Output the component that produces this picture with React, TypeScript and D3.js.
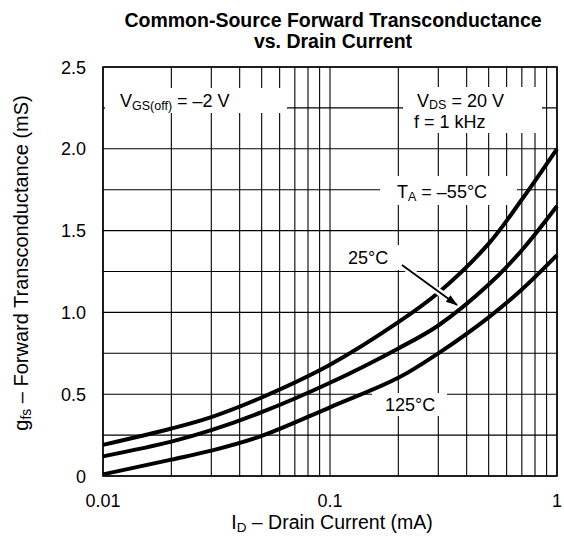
import React from "react";
import * as d3 from "d3";

const xTicks = [0.01, 0.1, 1];
const xTickLabels = ["0.01", "0.1", "1"];
const yTicks = [0, 0.5, 1.0, 1.5, 2.0, 2.5];
const yTickLabels = ["0", "0.5", "1.0", "1.5", "2.0", "2.5"];
const yGrid = [0, 0.25, 0.5, 0.75, 1.0, 1.25, 1.5, 1.75, 2.0, 2.25, 2.5];
const xGrid = [0.01, 0.02, 0.03, 0.04, 0.05, 0.06, 0.07, 0.08, 0.09, 0.1, 0.2, 0.3, 0.4, 0.5, 0.6, 0.7, 0.8, 0.9, 1];

const idCurrent = [0.01, 0.02, 0.03, 0.05, 0.1, 0.2, 0.3, 0.5, 0.7, 1.0];
const gfsM55 = [0.19, 0.29, 0.36, 0.48, 0.68, 0.94, 1.12, 1.42, 1.69, 2.0];
const gfs25 = [0.12, 0.21, 0.28, 0.39, 0.57, 0.78, 0.92, 1.17, 1.38, 1.65];
const gfs125 = [0.01, 0.1, 0.155, 0.245, 0.42, 0.6, 0.75, 0.97, 1.14, 1.35];

const series = [gfsM55, gfs25, gfs125];

const W = 564;
const H = 540;
const left = 103, right = 557, top = 67, bottom = 476;
const font = "Liberation Sans, Arial, Helvetica, sans-serif";
const fs = 18;
const sub = 12.5;

export default function App() {
  const x = d3.scaleLog().domain([0.01, 1]).range([left, right]);
  const y = d3.scaleLinear().domain([0, 2.5]).range([bottom, top]);
  const line = d3
    .line<[number, number]>()
    .x((d) => x(d[0]))
    .y((d) => y(d[1]))
    .curve(d3.curveCatmullRom.alpha(0.5));

  const boxes = [
    { x: 105, y: 88, w: 182, h: 25 },
    { x: 403, y: 87, w: 139, h: 46 },
    { x: 380, y: 176, w: 137, h: 29 },
    { x: 340, y: 245, w: 60, h: 25 },
    { x: 372, y: 393, w: 75, h: 23 },
  ];

  return (
    <svg width={W} height={H} style={{ position: "absolute", left: 0, top: 0 }} fontFamily={font}>
      <defs>
        <marker id="ah" viewBox="0 0 12 10" refX="11" refY="5" markerWidth="13" markerHeight="10" orient="auto" markerUnits="userSpaceOnUse">
          <path d="M0,1 L12,5 L0,9 z" fill="#000" />
        </marker>
      </defs>
      <rect x={0} y={0} width={W} height={H} fill="#fff" />
      {yGrid.map((v) => (
        <line key={"h" + v} x1={left} x2={right} y1={y(v)} y2={y(v)} stroke="#000" strokeWidth={1.1} />
      ))}
      {xGrid.map((v) => (
        <line key={"v" + v} x1={x(v)} x2={x(v)} y1={top} y2={bottom} stroke="#000" strokeWidth={1.1} />
      ))}
      <rect x={left} y={top} width={right - left} height={bottom - top} fill="none" stroke="#000" strokeWidth={1.5} />
      {boxes.map((b, i) => (
        <rect key={"b" + i} x={b.x} y={b.y} width={b.w} height={b.h} fill="#fff" />
      ))}
      {series.map((s, i) => (
        <path
          key={"s" + i}
          d={line(idCurrent.map((c, j) => [c, s[j]] as [number, number])) || ""}
          fill="none"
          stroke="#000"
          strokeWidth={4}
        />
      ))}
      <line x1={402} y1={265} x2={457} y2={305} stroke="#fff" strokeWidth={7} />
      <line x1={402} y1={265} x2={457} y2={305} stroke="#000" strokeWidth={1.8} markerEnd="url(#ah)" />

      <text x={120} y={107} fontSize={fs}>
        V<tspan fontSize={sub} dy={2.5}>GS(off)</tspan>
        <tspan dy={-2.5}> = –2 V</tspan>
      </text>
      <text x={417} y={107} fontSize={fs}>
        V<tspan fontSize={sub} dy={2}>DS</tspan>
        <tspan dy={-2}> = 20 V</tspan>
      </text>
      <text x={414} y={128} fontSize={fs}>f = 1 kHz</text>
      <text x={397} y={198} fontSize={fs}>
        T<tspan fontSize={sub} dy={2.5}>A</tspan>
        <tspan dy={-2.5}> = –55°C</tspan>
      </text>
      <text x={348} y={264} fontSize={fs}>25°C</text>
      <text x={385} y={411} fontSize={fs}>125°C</text>

      {yTicks.map((v, i) => (
        <text key={"yt" + v} x={86} y={y(v) + 6.5} fontSize={fs} textAnchor="end">
          {yTickLabels[i]}
        </text>
      ))}
      {xTicks.map((v, i) => (
        <text key={"xt" + v} x={x(v)} y={507} fontSize={fs} textAnchor="middle">
          {xTickLabels[i]}
        </text>
      ))}
      <text x={332} y={529} fontSize={19.5} textAnchor="middle">
        I<tspan fontSize={13.5} dy={3}>D</tspan>
        <tspan dy={-3}> – Drain Current (mA)</tspan>
      </text>
      <text transform="translate(28,263) rotate(-90)" fontSize={20} textAnchor="middle">
        g<tspan fontSize={14} dy={3}>fs</tspan>
        <tspan dy={-3}> – Forward Transconductance (mS)</tspan>
      </text>
      <text x={333} y={27} fontSize={19.5} fontWeight="bold" textAnchor="middle">
        Common-Source Forward Transconductance
      </text>
      <text x={333} y={48} fontSize={19.5} fontWeight="bold" textAnchor="middle">
        vs. Drain Current
      </text>
    </svg>
  );
}
